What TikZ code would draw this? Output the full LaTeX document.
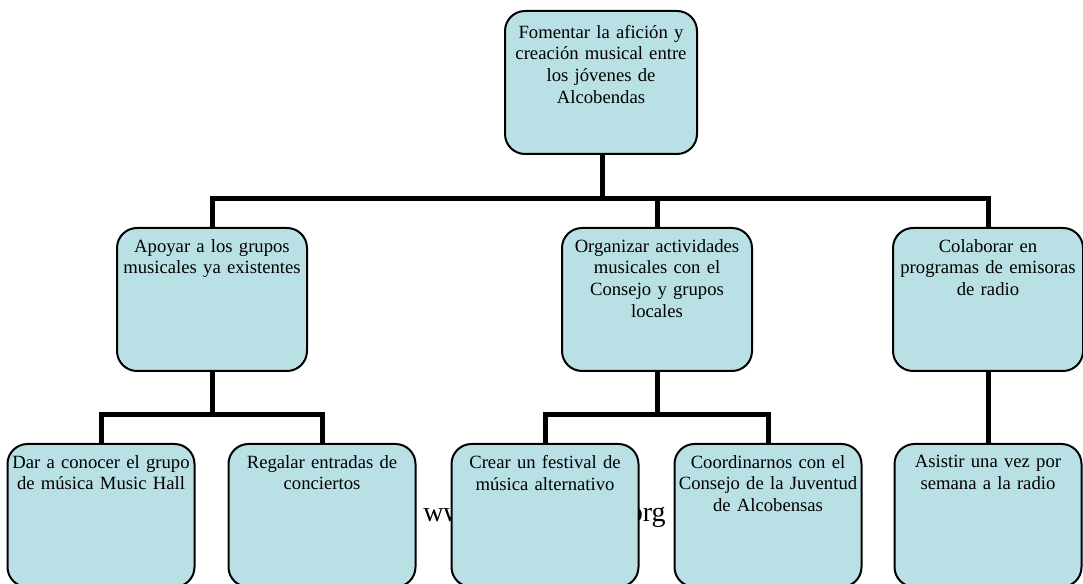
\documentclass[tikz,border=0pt]{standalone}
\usepackage{fontspec}
\setmainfont{Liberation Serif}
\usetikzlibrary{positioning}
\definecolor{cajaazul}{RGB}{185,224,228}

\begin{document}
\begin{tikzpicture}[x=0.75pt, y=-0.75pt,
    caja/.style={draw, line width=1.5pt, rounded corners=15pt, fill=cajaazul, minimum width=142.5pt, minimum height=107.25pt, anchor=north, inner sep=0pt},
    cajabaja/.style={caja, minimum width=140.25pt},
    texto/.style={text width=139pt, align=center, anchor=north, inner sep=0pt, font=\fontsize{14}{16.3}\selectfont},
    enlace/.style={line width=3.75pt},
    marca/.style={inner sep=0pt, font=\fontsize{21}{25}\selectfont}]
	\useasboundingbox (0,0) rectangle (1083,584);
	% texto de fondo, tapado por las cajas
	\node[marca, anchor=base west] (marca-izq) at (423,522) {www.};
	\node[marca, anchor=base east] (marca-der) at (666,522) {.org};
	% nivel 1
	\node[caja, minimum width=144pt] (meta) at (601,10) {};
	% nivel 2
	\node[caja] (apoyar) at (212,227) {};
	\node[caja] (organizar) at (657,227) {};
	\node[caja] (colaborar) at (988,227) {};
	% nivel 3
	\node[cajabaja] (dar) at (101,443) {};
	\node[cajabaja] (regalar) at (322,443) {};
	\node[cajabaja] (crear) at (545,443) {};
	\node[cajabaja] (coordinar) at (768,443) {};
	\node[cajabaja] (asistir) at (988,443) {};
	% textos
	\node[texto, below=11pt of meta.north] (meta-t) {Fomentar la afición y\\creación musical entre\\los jóvenes de\\Alcobendas};
	\node[texto, below=9pt of apoyar.north] (apoyar-t) {Apoyar a los grupos\\musicales ya existentes};
	\node[texto, below=9pt of organizar.north] (organizar-t) {Organizar actividades\\musicales con el\\Consejo y grupos\\locales};
	\node[texto, below=9pt of colaborar.north] (colaborar-t) {Colaborar en\\programas de emisoras\\de radio};
	\node[texto, below=9pt of dar.north] (dar-t) {Dar a conocer el grupo\\de música Music Hall};
	\node[texto, below=9pt of regalar.north] (regalar-t) {Regalar entradas de\\conciertos};
	\node[texto, below=9pt of crear.north] (crear-t) {Crear un festival de\\música alternativo};
	\node[texto, below=9pt of coordinar.north] (coordinar-t) {Coordinarnos con el\\Consejo de la Juventud\\de Alcobensas};
	\node[texto, below=9pt of asistir.north] (asistir-t) {Asistir una vez por\\semana a la radio};
	% conexiones
	\coordinate (barra1) at (602,199);
	\coordinate (barra2) at (212,415);
	\coordinate (barra3) at (657,415);
	\draw[enlace] (meta.south -| barra1) -- (barra1);
	\draw[enlace] (barra1) -| (apoyar.north);
	\draw[enlace] (barra1) -| (organizar.north);
	\draw[enlace] (barra1) -| (colaborar.north);
	\draw[enlace] (apoyar.south) -- (barra2);
	\draw[enlace] (barra2) -| (dar.north);
	\draw[enlace] (barra2) -| (regalar.north);
	\draw[enlace] (organizar.south) -- (barra3);
	\draw[enlace] (barra3) -| (crear.north);
	\draw[enlace] (barra3) -| (coordinar.north);
	\draw[enlace] (colaborar.south) -- (asistir.north);
\end{tikzpicture}
\end{document}
